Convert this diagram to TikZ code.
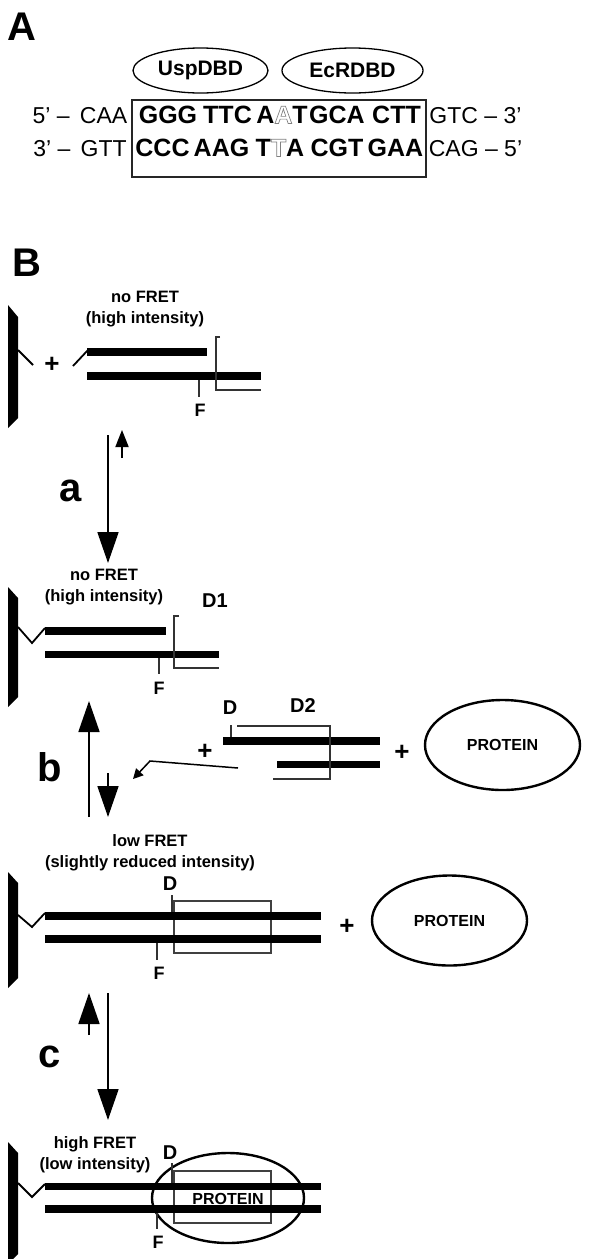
\documentclass[tikz,border=0pt]{standalone}
\usepackage{fontspec}
\setmainfont{Liberation Sans}
\usetikzlibrary{shapes.geometric,arrows.meta}
\newcommand{\hollowletter}[1]{{\special{pdf:literal direct 1 Tr 0.7 w}\color{black!50}#1\special{pdf:literal direct 0 Tr}}}
\begin{document}
\begin{tikzpicture}[x=1pt,y=-1pt,
  panel/.style={font=\fontsize{40}{40}\selectfont\bfseries, inner sep=0},
  seq/.style={font=\fontsize{23}{23}\selectfont, anchor=base, inner sep=0},
  bseq/.style={font=\fontsize{25}{25}\selectfont\bfseries, anchor=base, inner sep=0},
  lab/.style={font=\fontsize{16.5}{21}\selectfont\bfseries, align=center, inner sep=0},
  dlab/.style={font=\fontsize{20}{20}\selectfont\bfseries, inner sep=0},
  flab/.style={font=\fontsize{18}{18}\selectfont\bfseries, inner sep=0},
  plus/.style={font=\fontsize{26}{26}\selectfont\bfseries, inner sep=0},
  dom/.style={ellipse, draw, line width=1.3pt, minimum width=135pt, minimum height=45pt, inner sep=0, font=\fontsize{21}{21}\selectfont\bfseries},
  prot/.style={ellipse, draw, line width=2.4pt, minimum width=155pt, minimum height=90pt, inner sep=0, font=\fontsize{16}{16}\selectfont\bfseries},
  thinl/.style={draw=black!80, line width=1.1pt},
  shaft/.style={draw, line width=1.8pt},
  bigtip/.style={shaft, -{Triangle[width=21pt,length=31pt]}},
  smalltip/.style={shaft, -{Triangle[width=13pt,length=17pt]}},
  link/.style={draw, line width=1.8pt}
]
\useasboundingbox (0,0) rectangle (604,1259);

% ---------------- Panel A ----------------
\node[panel] (pA) at (21.5,26.5) {A};
\node[dom] (usp) at (200.5,70.5) {UspDBD};
\node[dom, minimum width=141pt] (ecr) at (352.5,70.5) {EcRDBD};
\draw[line width=1.2pt, draw=black!85] (132,100) rectangle (426,177);

\node[seq] (t5) at (80,123.5) {5’ –\, CAA};
\node[bseq] (t1) at (168,123.5) {GGG};
\node[bseq] (t2) at (227.5,123.5) {TTC};
\node[bseq] (t3) at (282,123.5) {A\hollowletter{A}T};
\node[bseq] (t4) at (337,123.5) {GCA};
\node[bseq] (t6) at (396.5,123.5) {CTT};
\node[seq] (t3p) at (475.5,123.5) {GTC – 3’};

\node[seq] (b3) at (80,156.5) {3’ –\, GTT};
\node[bseq] (b1) at (162.5,156.5) {CCC};
\node[bseq] (b2) at (221.5,156.5) {AAG};
\node[bseq] (bb3) at (280,156.5) {T\hollowletter{T}A};
\node[bseq] (b4) at (337,156.5) {CGT};
\node[bseq] (b6) at (395.5,156.5) {GAA};
\node[seq] (b5p) at (475.5,156.5) {CAG – 5’};

% ---------------- Panel B ----------------
\node[panel] (pB) at (27,263) {B};

% state 1
\fill (8,305) -- (18,317) -- (18,418) -- (8,428) -- cycle;
\coordinate (l1a) at (18,350);
\coordinate (l1b) at (33,365);
\draw[link] (l1a) -- (l1b);
\node[plus] (p1) at (52,365) {+};
\node[lab] (s1) at (145,309) {no FRET\\(high intensity)};
\fill (87,348) rectangle (207,356);
\fill (87,372) rectangle (261,380);
\coordinate (l2a) at (73,366);
\coordinate (l2b) at (88,350);
\draw[link] (l2a) -- (l2b);
\draw[thinl] (220,337) -- (216,337) -- (216,390) -- (261,390);
\draw[thinl] (199,380) -- (199,397);
\node[flab] (f1) at (200,410) {F};

% arrows a
\coordinate (a1s) at (108,435); \coordinate (a1e) at (108,563);
\coordinate (a2s) at (122,458); \coordinate (a2e) at (122,430);
\draw[bigtip] (a1s) -- (a1e);
\draw[smalltip] (a2s) -- (a2e);
\node[panel] (la) at (71,491) {a};

% state 2
\fill (8,587) -- (18,598) -- (18,697) -- (8,707) -- cycle;
\node[lab] (s2) at (104,587) {no FRET\\(high intensity)};
\node[dlab] (d1) at (215,600.5) {D1};
\draw[link] (18,627) -- (32,643) -- (45,628);
\fill (45,627) rectangle (166,635);
\fill (45,651) rectangle (219,658);
\draw[thinl] (179,616) -- (174,616) -- (174,668) -- (219,668);
\draw[thinl] (159,658) -- (159,674);
\node[flab] (f2) at (159,688) {F};

% arrows b
\coordinate (b1s) at (89,817); \coordinate (b1e) at (89,701);
\coordinate (b2s) at (108,773); \coordinate (b2e) at (108,817);
\draw[bigtip] (b1s) -- (b1e);
\draw[bigtip] (b2s) -- (b2e);
\node[panel] (lb) at (50,767) {b};

% incoming D2 strand
\coordinate (k1) at (238,768); \coordinate (k2) at (150,761); \coordinate (k3) at (133,779);
\draw[line width=1.5pt, -{Triangle[width=10pt,length=10pt]}] (k1) -- (k2) -- (k3);
\node[plus] (p2) at (205,752) {+};
\fill (223,737) rectangle (380,744.5);
\fill (277,761) rectangle (380,768);
\node[dlab] (dd2) at (230,708) {D};
\draw[thinl] (231,725) -- (231,737);
\draw[thinl] (237,726) -- (330,726) -- (330,779) -- (273,779);
\node[dlab] (d2) at (303,706) {D2};
\node[plus] (p3) at (402,753) {+};
\node[prot] (pr1) at (502.5,745) {PROTEIN};

% state 3
\node[lab] (s3) at (150,853) {low FRET\\(slightly reduced intensity)};
\fill (8,872) -- (18,883) -- (18,978) -- (8,988) -- cycle;
\draw[link] (18,915) -- (32,927) -- (45,913);
\draw[line width=1.1pt, draw=black!75] (174,901) rectangle (271,953);
\fill (45,912) rectangle (321,919.5);
\fill (45,935) rectangle (321,943);
\node[dlab] (dd3) at (170,884) {D};
\draw[thinl] (172,895) -- (172,912);
\draw[thinl] (157,943) -- (157,960);
\node[flab] (f3) at (159,973) {F};
\node[plus] (p4) at (347,927) {+};
\node[prot] (pr2) at (449.5,920.5) {PROTEIN};

% arrows c
\coordinate (c1s) at (89,1035); \coordinate (c1e) at (89,993);
\coordinate (c2s) at (108,993); \coordinate (c2e) at (108,1120);
\draw[bigtip] (c1s) -- (c1e);
\draw[bigtip] (c2s) -- (c2e);
\node[panel] (lc) at (50,1057) {c};

% state 4
\node[lab] (s4) at (95,1155) {high FRET\\(low intensity)};
\fill (8,1142) -- (18,1153) -- (18,1254) -- (8,1264) -- cycle;
\node[prot, minimum width=152pt] (pr3) at (228,1198) {};
\draw[line width=1.1pt, draw=black!75] (174,1171) rectangle (271,1223);
\draw[link] (18,1183) -- (32,1197) -- (45,1184);
\fill (45,1183) rectangle (321,1190);
\fill (45,1205) rectangle (321,1213);
\node[font=\fontsize{16}{16}\selectfont\bfseries, inner sep=0] (pt4) at (228,1198.5) {PROTEIN};
\node[dlab] (dd4) at (170,1153) {D};
\draw[thinl] (172,1163) -- (172,1183);
\draw[thinl] (157,1213) -- (157,1229);
\node[flab] (f4) at (158,1242) {F};
\end{tikzpicture}
\end{document}
